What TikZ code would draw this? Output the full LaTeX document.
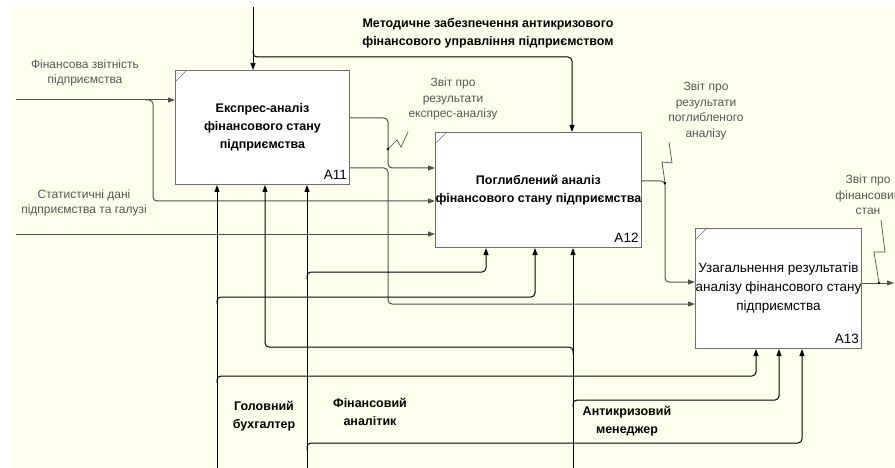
\documentclass[tikz,border=0pt]{standalone}
\usepackage{fontspec}
\setmainfont{Liberation Sans}
\usetikzlibrary{arrows.meta}
\definecolor{bgcream}{RGB}{255,255,238}
\definecolor{boxgray}{RGB}{110,110,110}
\definecolor{flowgray}{RGB}{80,80,80}
\definecolor{labgray}{RGB}{85,85,85}
\begin{document}
\begin{tikzpicture}[x=1pt, y=-1pt,
      fbox/.style={rectangle, draw=boxgray, fill=white, line width=1pt,
                   inner sep=0pt, anchor=north west, align=center,
                   font=\bfseries\fontsize{12.5}{18}\selectfont},
      flow/.style={draw=flowgray, line width=1pt, rounded corners=4pt,
                   -{Triangle[length=7pt,width=5pt]}},
      mech/.style={flow, draw=black},
      squig/.style={draw=flowgray, line width=0.7pt},
      lbl/.style={text=labgray, align=center, inner sep=0pt,
                  font=\fontsize{12}{15.5}\selectfont},
      blbl/.style={align=center, inner sep=0pt,
                   font=\bfseries\fontsize{12.5}{18}\selectfont},
      tag/.style={anchor=south east, inner xsep=3pt, inner ysep=5pt,
                  font=\fontsize{13.5}{16}\selectfont}
    ]
    \useasboundingbox (0,0) rectangle (895,468);
    \fill[white] (0,0) rectangle (895,468);
    \fill[bgcream] (11,7) rectangle (895,468);
    % activity boxes
    \node[fbox, minimum width=174pt, minimum height=114pt] (a11) at (175,70)
      {Експрес-аналіз\\фінансового стану\\підприємства};
    \node[fbox, minimum width=203pt, minimum height=115pt] (a12) at (435,132)
      {Поглиблений аналіз\\фінансового стану підприємства};
    \node[fbox, minimum width=166pt, minimum height=120pt,
          font=\fontsize{13.5}{19}\selectfont] (a13) at (695,228)
      {Узагальнення результатів\\аналізу фінансового стану\\підприємства};
    \node[tag] (t11) at (a11.south east) {A11};
    \node[tag] (t12) at (a12.south east) {A12};
    \node[tag] (t13) at (a13.south east) {A13};
    \foreach \b in {a11,a12,a13}
      \draw[boxgray] ([yshift=-12pt]\b.north west) -- ([xshift=12pt]\b.north west);
    % control
    \coordinate (ctrl) at (253,7);
    \draw[mech] (ctrl) -- (ctrl |- a11.north);
    \draw[mech] (253,50) -- (253,57) -- (572,57) -- (a12.north -| 572,0);
    \node[blbl] (lctrl) at (488,33)
      {Методичне забезпечення антикризового\\фінансового управління підприємством};
    % inputs
    \coordinate (in1) at (16,100);
    \coordinate (in2) at (16,234);
    \draw[flow] (in1) -- (in1 -| a11.west);
    \draw[flow] (145,100) -- (153,100) -- (153,201) -- (a12.west |- 0,201);
    \draw[flow] (in2) -- (in2 -| a12.west);
    \node[lbl] (lin1) at (85,73) {Фінансова звітність\\підприємства};
    \node[lbl] (lin2) at (84,203) {Статистичні дані\\підприємства та галузі};
    % outputs
    \draw[flow] (a11.east |- 0,118) -- (388,118) -- (388,168) -- (a12.west |- 0,168);
    \draw[flow] (a11.east |- 0,168) -- (388,168) -- (388,304) -- (a13.west |- 0,304);
    \draw[flow] (a12.east |- 0,181) -- (665,181) -- (665,282) -- (a13.west |- 0,282);
    \coordinate (out) at (894,283);
    \draw[flow] (a13.east |- out) -- (out);
    \draw[squig] (388,149) -- (397,140) -- (401,147) -- (408,132);
    \draw[squig] (665,183) -- (662,162) -- (672,163) -- (669,142);
    \draw[squig] (879,283) -- (874,252) -- (885,252) -- (881,220);
    \foreach \p in {(388,149),(665,183),(879,283)}
      \fill[black] \p circle (1.3pt);
    \node[lbl] (lo11) at (453,99) {Звіт про\\результати\\експрес-аналізу};
    \node[lbl] (lo12) at (706,111) {Звіт про\\результати\\поглибленого\\аналізу};
    \node[lbl] (lo13) at (868,195) {Звіт про\\фінансовий\\стан};
    % mechanisms
    \coordinate (m1) at (217,468);
    \coordinate (m2) at (307,468);
    \coordinate (m3) at (573,468);
    \draw[mech] (m1) -- (m1 |- a11.south);
    \draw[mech] (217,304) -- (217,297) -- (535,297) -- (a12.south -| 535,0);
    \draw[mech] (217,383) -- (217,376) -- (756,376) -- (a13.south -| 756,0);
    \draw[mech] (m2) -- (m2 |- a11.south);
    \draw[mech] (307,279) -- (307,272) -- (486,272) -- (a12.south -| 486,0);
    \draw[mech] (307,450) -- (307,443) -- (802,443) -- (a13.south -| 802,0);
    \draw[mech] (m3) -- (m3 |- a12.south);
    \draw[mech] (573,354) -- (573,347) -- (265,347) -- (a11.south -| 265,0);
    \draw[mech] (573,407) -- (573,400) -- (779,400) -- (a13.south -| 779,0);
    \node[blbl] (lm1) at (264,416) {Головний\\бухгалтер};
    \node[blbl] (lm2) at (370,412) {Фінансовий\\аналітик};
    \node[blbl] (lm3) at (627,421) {Антикризовий\\менеджер};
  \end{tikzpicture}
\end{document}
